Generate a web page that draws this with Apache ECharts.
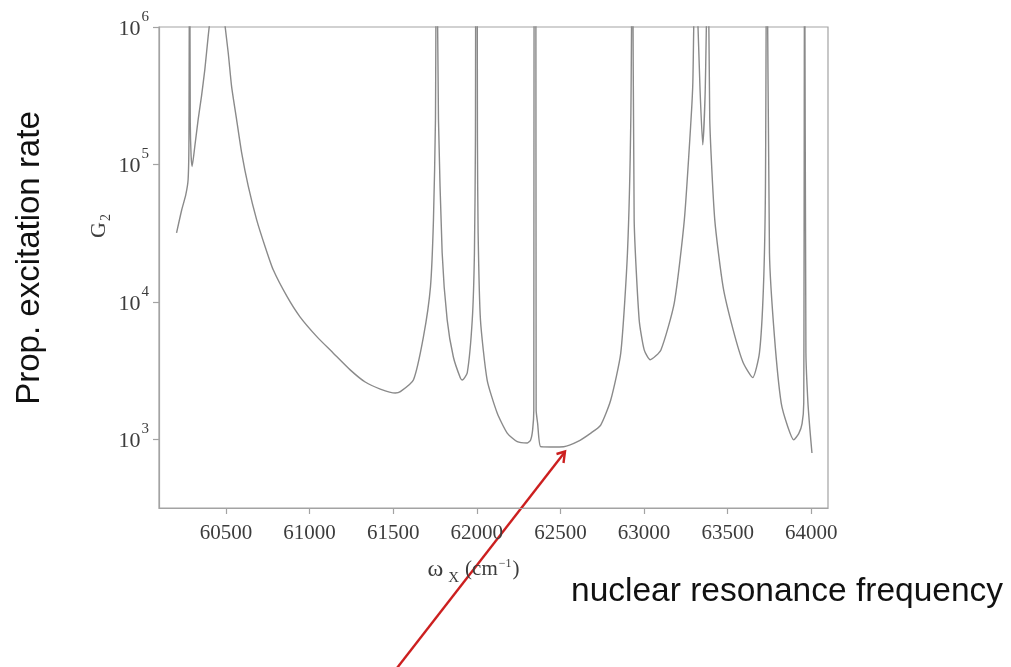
<!DOCTYPE html>
<html>
<head>
<meta charset="utf-8">
<script src="https://cdn.jsdelivr.net/npm/echarts@6/dist/echarts.min.js"></script>
<style>
  html, body { margin: 0; padding: 0; background: #ffffff; }
  #chart { width: 1011px; height: 667px; }
</style>
</head>
<body>
<div id="chart"></div>
<script>
// ---- data ----
const freq = [
  60205, 60236, 60260, 60274, 60279, 60283, 60287, 60292, 60298,
  60314, 60334, 60354, 60374, 60394, 60420, 60449, 60475, 60514, 60534,
  60564, 60594, 60634, 60684, 60734, 60783, 60866, 60943, 61045, 61141,
  61243, 61333, 61423, 61513, 61543, 61621, 61681, 61723, 61741, 61753,
  61759, 61771, 61793, 61823, 61860, 61902, 61913, 61943, 61973, 61986,
  61992, 61995, 62001, 62004, 62008, 62022, 62062, 62122, 62182, 62242, 62302,
  62322, 62334, 62341, 62343, 62353, 62355, 62364, 62382, 62442, 62520, 62602,
  62682, 62741, 62801, 62861, 62901, 62921, 62931, 62941, 62971, 63001,
  63037, 63101, 63181, 63241, 63281, 63292, 63305, 63318, 63335, 63351,
  63366, 63383, 63393, 63423, 63473, 63533, 63593, 63650, 63690, 63714,
  63726, 63734, 63750, 63780, 63820, 63860, 63895, 63925, 63945, 63955,
  63960, 63968, 63980, 63992, 64004
];
const rate = [
  31800, 46800, 60100, 77400, 150000, 1e7, 200000, 115000, 96600,
  135000, 212000, 313000, 490000, 855000, 1.6e6, 2.5e6, 1.6e6, 647000, 370000,
  212000, 122000, 69200, 39500, 25300, 17100, 10900, 7780, 5560, 4250,
  3200, 2610, 2320, 2170, 2220, 2700, 5560, 12800, 39500, 212000,
  1e7, 212000, 22800, 7400, 3970, 2790, 2700, 3040, 7400, 22800,
  150000, 1e7, 1e7, 150000, 31800, 7400, 2700, 1555, 1110, 961, 940,
  988, 1170, 1630, 1e7, 1e7, 1630, 1300, 883, 879, 883, 961,
  1110, 1270, 1930, 4250, 22800, 212000, 1e7, 39500, 7400, 4470,
  3790, 4470, 9840, 39500, 212000, 400000, 3e6, 1.5e6, 350000, 139000,
  350000, 5e6, 212000, 39500, 12800, 6250, 3600, 2810, 4250, 12800,
  68900, 1e7, 22800, 5560, 1840, 1230, 990, 1100, 1300, 1840,
  1e7, 4250, 1840, 1170, 795
];
const xTicks = [60500, 61000, 61500, 62000, 62500, 63000, 63500, 64000];
const yTicks = [1e3, 1e4, 1e5, 1e6];

const points = freq.map((f, i) => [f, rate[i]]);

const axisGray = '#a3a3a3';
const labelColor = '#3c3c3c';
const serif = '"Liberation Serif", "DejaVu Serif", serif';
const sans = '"Liberation Sans", Arial, sans-serif';

const chart = echarts.init(document.getElementById('chart'), null, { renderer: 'canvas' });
chart.setOption({
  animation: false,
  backgroundColor: '#ffffff',
  grid: {
    left: 159, right: 183, top: 27, bottom: 159,
    show: true, borderColor: axisGray, borderWidth: 1.2, backgroundColor: 'transparent'
  },
  xAxis: {
    type: 'value',
    min: 60100, max: 64100,
    axisLine: { show: true, lineStyle: { color: axisGray, width: 1.2 } },
    axisTick: { show: true, length: 6, customValues: xTicks, lineStyle: { color: axisGray, width: 1.2 } },
    axisLabel: {
      customValues: xTicks, margin: 15, color: labelColor,
      fontFamily: serif, fontSize: 21,
      formatter: v => String(v)
    },
    splitLine: { show: false },
    name: '{w|ω}{sub|X}{n|(cm}{sup|−1}{n|)}',
    nameLocation: 'middle',
    nameGap: 45,
    nameTextStyle: {
      padding: [0, 40, 0, 0],
      rich: {
        w: { fontFamily: serif, fontSize: 24, color: labelColor },
        sub: { fontFamily: serif, fontSize: 15, color: labelColor, padding: [18, 6, 0, 5] },
        n: { fontFamily: serif, fontSize: 21, color: labelColor },
        sup: { fontFamily: serif, fontSize: 12, color: labelColor, padding: [0, 1, 12, 1] }
      }
    }
  },
  yAxis: {
    type: 'log',
    logBase: 10,
    min: 316.2278, max: 1e6,
    axisLine: { show: true, lineStyle: { color: axisGray, width: 1.2 } },
    axisTick: { show: true, length: 6, customValues: yTicks, lineStyle: { color: axisGray, width: 1.2 } },
    axisLabel: {
      customValues: yTicks, margin: 10, color: labelColor,
      formatter: v => '{b|10}{s|' + Math.round(Math.log10(v)) + '}',
      rich: {
        b: { fontFamily: serif, fontSize: 22, color: labelColor, padding: [4, 0, 0, 0] },
        s: { fontFamily: serif, fontSize: 15, color: labelColor, padding: [0, 0, 20, 1] }
      }
    },
    splitLine: { show: false },
    minorTick: { show: false }
  },
  series: [{
    type: 'line',
    data: points,
    showSymbol: false,
    symbol: 'none',
    clip: true,
    smooth: 0.2,
    lineStyle: { color: '#8a8a8a', width: 1.4 },
    emphasis: { disabled: true }
  }],
  graphic: [
    {
      type: 'text', x: 99, y: 226, rotation: Math.PI / 2,
      style: {
        text: '{g|G}{s|2}',
        align: 'center', verticalAlign: 'middle',
        textAlign: 'center', textVerticalAlign: 'middle',
        rich: {
          g: { fontFamily: serif, fontSize: 22, fill: labelColor, color: labelColor },
          s: { fontFamily: serif, fontSize: 14, fill: labelColor, color: labelColor, padding: [14, 0, 0, 1] }
        }
      }
    },
    {
      type: 'text', x: 30, y: 258, rotation: Math.PI / 2,
      style: {
        text: 'Prop. excitation rate',
        font: '33px ' + sans,
        fill: '#111111',
        align: 'center', verticalAlign: 'middle',
        textAlign: 'center', textVerticalAlign: 'middle'
      }
    },
    {
      type: 'text', x: 571, y: 592,
      style: {
        text: 'nuclear resonance frequency',
        font: '33.5px ' + sans,
        fill: '#111111',
        align: 'left', verticalAlign: 'middle',
        textAlign: 'left', textVerticalAlign: 'middle'
      }
    },
    {
      type: 'line',
      shape: { x1: 397, y1: 668, x2: 564.5, y2: 452.5 },
      style: { stroke: '#cc1f1f', lineWidth: 2.4 }
    },
    {
      type: 'polyline',
      shape: { points: [[556.5, 454], [565, 451.5], [563.5, 463]] },
      style: { stroke: '#cc1f1f', lineWidth: 2.4, fill: null }
    }
  ]
});
</script>
</body>
</html>
